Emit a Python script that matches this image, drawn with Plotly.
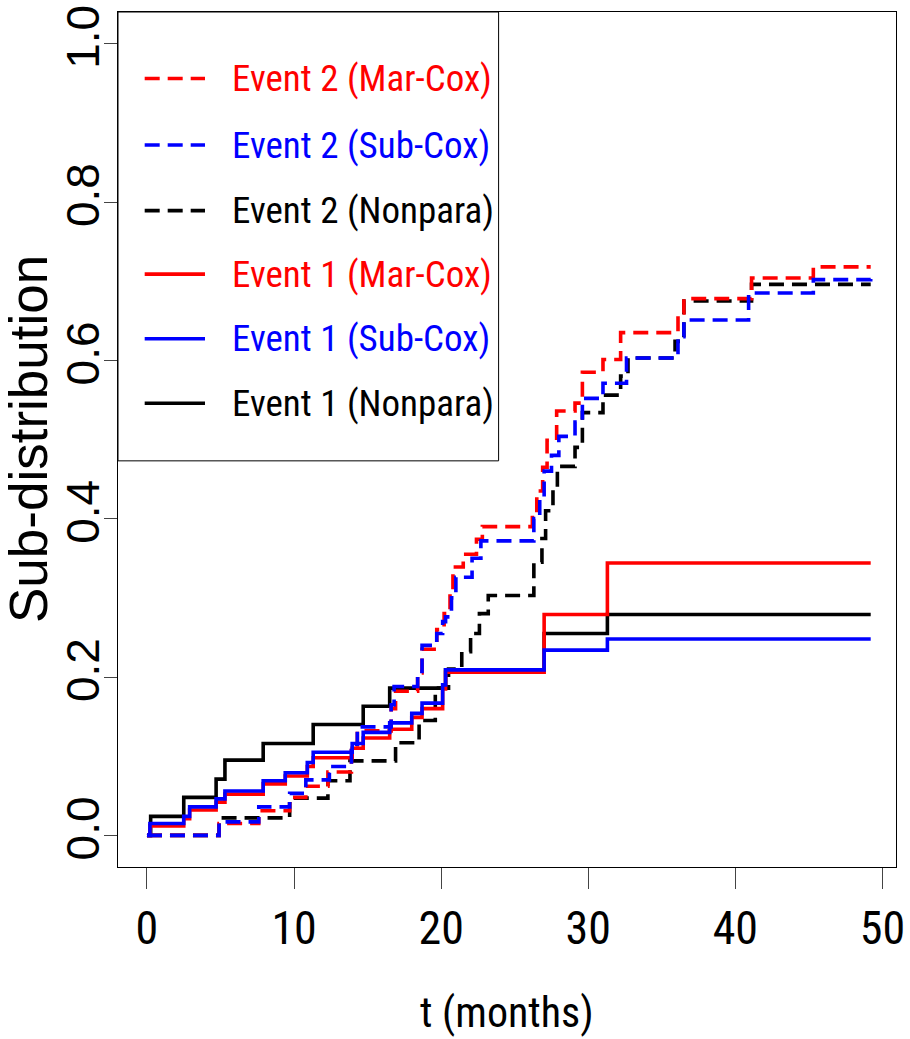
import plotly.graph_objects as go

# ---------------- data ----------------
# Event 1 (solid lines)
t_e1_np = [0, 0.25, 2.5, 4.7, 5.3, 7.9, 11.3, 14.7, 16.5, 20.3, 27.0, 31.3, 49.2]
y_e1_np = [0, 0.024, 0.048, 0.071, 0.095, 0.116, 0.140, 0.163, 0.186, 0.209, 0.255, 0.279, 0.279]

t_e1_sub = [0, 0.2, 2.5, 2.9, 4.7, 5.3, 7.9, 9.4, 10.9, 11.3, 13.95, 14.7, 16.5, 18.0, 18.7,
            20.1, 20.3, 27.0, 31.3, 49.2]
y_e1_sub = [0, 0.015, 0.024, 0.036, 0.046, 0.056, 0.069, 0.079, 0.092, 0.105, 0.116, 0.130,
            0.142, 0.154, 0.167, 0.190, 0.209, 0.234, 0.248, 0.248]

t_e1_mar = t_e1_sub
y_e1_mar = [0, 0.012, 0.021, 0.032, 0.042, 0.052, 0.065, 0.075, 0.087, 0.098, 0.110, 0.123,
            0.134, 0.149, 0.160, 0.185, 0.206, 0.279, 0.344, 0.344]

# Event 2 (dashed lines)
t_e2_np = [0, 4.9, 9.7, 12.3, 13.8, 16.9, 18.5, 19.6, 20.5, 21.4, 22.0, 22.6, 23.2, 26.3,
           26.85, 27.1, 27.6, 27.9, 29.1, 29.6, 31.0, 32.2, 32.7, 35.9, 36.5, 41.1, 49.2]
y_e2_np = [0, 0.022, 0.047, 0.069, 0.094, 0.117, 0.145, 0.186, 0.210, 0.232, 0.255, 0.280,
           0.303, 0.345, 0.375, 0.410, 0.440, 0.466, 0.490, 0.534, 0.556, 0.580, 0.603, 0.624,
           0.675, 0.696, 0.696]

t_e2_mar = [0, 4.9, 7.6, 9.7, 10.8, 12.3, 13.9, 14.3, 16.6, 16.9, 18.4, 18.7, 19.7, 20.2,
            20.6, 20.8, 21.5, 22.4, 22.8, 26.2, 26.5, 26.9, 27.2, 27.85, 29.1, 29.6, 31.0,
            32.2, 36.1, 36.5, 41.1, 45.3, 49.2]
y_e2_mar = [0, 0.015, 0.031, 0.048, 0.062, 0.080, 0.110, 0.132, 0.160, 0.182, 0.205, 0.235,
            0.260, 0.280, 0.310, 0.339, 0.355, 0.374, 0.390, 0.408, 0.435, 0.465, 0.499,
            0.536, 0.546, 0.585, 0.601, 0.635, 0.660, 0.678, 0.704, 0.718, 0.718]

t_e2_sub = [0, 4.9, 7.6, 9.7, 10.8, 12.4, 13.9, 14.3, 16.6, 16.8, 18.4, 18.7, 19.7, 20.1,
            20.3, 20.7, 21.0, 22.1, 22.7, 26.3, 26.7, 27.0, 27.5, 28.0, 29.1, 29.6, 31.0,
            32.6, 36.1, 36.5, 40.9, 45.3, 49.2]
y_e2_sub = [0, 0.017, 0.036, 0.053, 0.070, 0.087, 0.115, 0.137, 0.165, 0.188, 0.207, 0.240,
            0.255, 0.270, 0.276, 0.300, 0.326, 0.350, 0.372, 0.400, 0.425, 0.460, 0.480,
            0.504, 0.522, 0.552, 0.571, 0.603, 0.630, 0.651, 0.685, 0.702, 0.708]

x_ticks = [0, 10, 20, 30, 40, 50]
y_ticks = [0.0, 0.2, 0.4, 0.6, 0.8, 1.0]
y_tick_text = ["0.0", "0.2", "0.4", "0.6", "0.8", "1.0"]

legend_labels = ["Event 2 (Mar-Cox)", "Event 2 (Sub-Cox)", "Event 2 (Nonpara)",
                 "Event 1 (Mar-Cox)", "Event 1 (Sub-Cox)", "Event 1 (Nonpara)"]
legend_colors = ["#FF0000", "#0000FF", "#000000", "#FF0000", "#0000FF", "#000000"]
legend_dashed = [True, True, True, False, False, False]

# ---------------- figure ----------------
NARROW = "Liberation Sans Narrow, Arial Narrow, Roboto Condensed, Liberation Sans, Arial, sans-serif"
REG = "Liberation Sans, Arial, sans-serif"
DASH = "15px,8px"
LW = 3.6

fig = go.Figure()
series = [
    (t_e1_np, y_e1_np, "#000000", "solid"),
    (t_e2_np, y_e2_np, "#000000", DASH),
    (t_e1_mar, y_e1_mar, "#FF0000", "solid"),
    (t_e2_mar, y_e2_mar, "#FF0000", DASH),
    (t_e1_sub, y_e1_sub, "#0000FF", "solid"),
    (t_e2_sub, y_e2_sub, "#0000FF", DASH),
]
for t, y, c, d in series:
    fig.add_trace(go.Scatter(x=t, y=y, mode="lines", line=dict(color=c, width=LW, dash=d, shape="hv"),
                             showlegend=False, hoverinfo="skip"))

W, H = 910, 1039
L, R, T, B = 118, 5, 6, 172
pw, ph = W - L - R, H - T - B


def px2paper(px, py):
    return (px - L) / pw, (H - B - py) / ph


# legend box
x0, y0 = px2paper(118, 458)
x1, y1 = px2paper(503, 6)
shapes = [dict(type="rect", xref="paper", yref="paper", x0=x0, y0=y0, x1=x1, y1=y1,
               line=dict(color="black", width=1), fillcolor="white", layer="above")]
annotations = []
row_y = [73, 140, 206, 270, 335, 400]
for lab, col, dashed, py in zip(legend_labels, legend_colors, legend_dashed, row_y):
    lx0, ly = px2paper(145, py)
    lx1, _ = px2paper(206, py)
    shapes.append(dict(type="line", xref="paper", yref="paper", x0=lx0, x1=lx1, y0=ly, y1=ly,
                       line=dict(color=col, width=LW, dash=DASH if dashed else "solid"),
                       layer="above"))
    tx, _ = px2paper(231, py)
    annotations.append(dict(xref="paper", yref="paper", x=tx, y=ly, text=lab, showarrow=False,
                            xanchor="left", yanchor="middle",
                            font=dict(family=NARROW, size=37, color=col)))

# axis titles
ax, ay = px2paper(27, 436)
annotations.append(dict(xref="paper", yref="paper", x=ax, y=ay, text="Sub-distribution",
                        textangle=-90, showarrow=False, xanchor="center", yanchor="middle",
                        font=dict(family=REG, size=53, color="black")))
bx, by = px2paper(512, 1014)
annotations.append(dict(xref="paper", yref="paper", x=bx, y=by, text="t (months)",
                        showarrow=False, xanchor="center", yanchor="middle",
                        font=dict(family=NARROW, size=42, color="black")))

fig.update_layout(
    width=W, height=H,
    margin=dict(l=L, r=R, t=T, b=B, pad=0),
    plot_bgcolor="white", paper_bgcolor="white",
    shapes=shapes, annotations=annotations,
    xaxis=dict(range=[-1.97, 50.92], tickvals=x_ticks, ticktext=[str(v) for v in x_ticks],
               showgrid=False, zeroline=False, showline=True, mirror=True, linecolor="black",
               linewidth=1, ticks="outside", ticklen=21, tickcolor="#444", tickwidth=1,
               tickfont=dict(family=NARROW, size=46, color="black"), ticklabelstandoff=0,
               ticklabeloverflow="allow"),
    yaxis=dict(range=[-0.04, 1.04], tickvals=y_ticks, ticktext=y_tick_text, tickangle=-90,
               showgrid=False, zeroline=False, showline=True, mirror=True, linecolor="black",
               linewidth=1, ticks="outside", ticklen=13, tickcolor="#444", tickwidth=1,
               tickfont=dict(family=REG, size=46, color="black"), ticklabelstandoff=-13,
               ticklabeloverflow="allow"),
)

fig.write_html("out.html", config={"displayModeBar": False},
               post_script="document.body.style.margin='0';document.body.style.overflow='hidden';")
